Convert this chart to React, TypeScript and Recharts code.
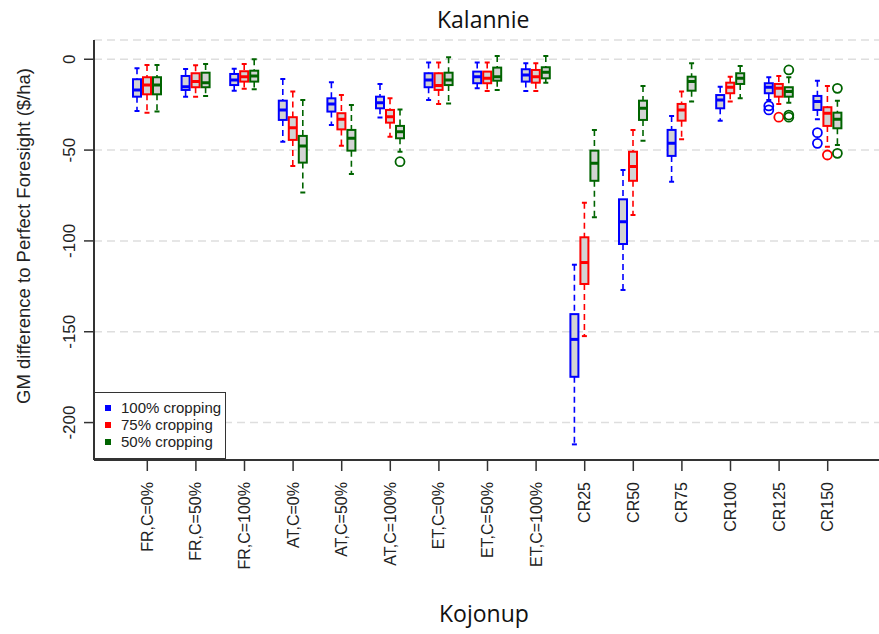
import React from 'react';
import { ComposedChart, Bar, XAxis, YAxis, CartesianGrid, Legend } from 'recharts';

// Box stats per scenario: [lower whisker, Q1, median, Q3, upper whisker]
type Stats = [number, number, number, number, number];

const categories = [
  'FR,C=0%', 'FR,C=50%', 'FR,C=100%',
  'AT,C=0%', 'AT,C=50%', 'AT,C=100%',
  'ET,C=0%', 'ET,C=50%', 'ET,C=100%',
  'CR25', 'CR50', 'CR75', 'CR100', 'CR125', 'CR150',
];

const crop100: Stats[] = [
  [-28.5, -20.6, -16.9, -11.0, -5.0],
  [-20.6, -16.9, -15.1, -9.2, -5.3],
  [-17.3, -14.2, -11.4, -8.1, -5.2],
  [-45.4, -33.4, -27.9, -22.8, -10.8],
  [-36.2, -28.8, -24.6, -21.5, -12.7],
  [-32.0, -27.0, -23.9, -20.6, -13.6],
  [-22.4, -15.4, -11.4, -7.7, -1.8],
  [-16.0, -13.2, -9.6, -6.8, -1.8],
  [-17.5, -12.3, -8.6, -5.5, -2.2],
  [-212.0, -174.8, -154.2, -140.3, -113.1],
  [-127.0, -101.7, -89.4, -77.1, -61.0],
  [-67.4, -53.2, -46.3, -38.9, -31.2],
  [-33.8, -27.0, -22.4, -19.7, -15.1],
  [-22.4, -18.7, -15.4, -13.2, -9.9],
  [-33.0, -27.9, -23.3, -20.2, -11.8],
];

const crop75: Stats[] = [
  [-29.4, -19.3, -14.2, -9.9, -3.1],
  [-20.6, -15.4, -12.3, -7.7, -3.3],
  [-16.2, -12.3, -9.6, -6.6, -2.6],
  [-58.8, -44.4, -37.7, -31.9, -17.8],
  [-47.6, -38.6, -33.0, -29.7, -19.7],
  [-42.6, -34.9, -31.6, -27.9, -21.5],
  [-24.6, -16.9, -14.5, -7.7, -1.8],
  [-17.5, -13.2, -10.5, -6.8, -1.8],
  [-17.5, -12.9, -9.6, -5.9, -2.2],
  [-152.4, -123.7, -111.9, -98.0, -79.0],
  [-85.7, -66.9, -59.1, -50.9, -38.9],
  [-44.1, -33.8, -27.9, -24.6, -17.8],
  [-23.3, -18.7, -15.4, -12.9, -9.6],
  [-24.6, -20.6, -16.0, -13.6, -9.2],
  [-48.1, -36.7, -29.7, -26.4, -14.7],
];

const crop50: Stats[] = [
  [-28.8, -19.3, -14.2, -9.9, -3.1],
  [-20.2, -15.4, -12.9, -7.4, -2.6],
  [-16.5, -12.3, -9.2, -6.3, 0.0],
  [-73.4, -56.9, -47.7, -42.2, -22.4],
  [-63.2, -50.3, -43.5, -38.9, -25.2],
  [-50.9, -43.5, -39.9, -36.7, -27.6],
  [-24.3, -14.2, -11.4, -7.4, 1.1],
  [-16.9, -11.8, -9.6, -4.6, 1.8],
  [-12.9, -10.5, -7.2, -4.4, 1.8],
  [-87.0, -66.9, -57.3, -50.3, -38.9],
  [-44.8, -33.4, -27.0, -22.8, -14.7],
  [-23.3, -17.3, -12.3, -9.6, -2.2],
  [-21.5, -13.6, -10.5, -7.7, -3.7],
  [-23.9, -20.6, -17.8, -15.4, -9.9],
  [-47.2, -38.0, -33.0, -29.4, -22.8],
];

// outlying points per category
const out100: number[][] = [[], [], [], [], [], [], [], [], [], [], [], [], [], [-25.7, -27.9], [-40.4, -46.3]];
const out75: number[][] = [[], [], [], [], [], [], [], [], [], [], [], [], [], [-31.9], [-52.7]];
const out50: number[][] = [[], [], [], [], [], [-56.4], [], [], [], [], [], [], [], [-5.9, -30.7, -31.9], [-16.0, -51.8]];

const yTicks = [0, -50, -100, -150, -200];

const series = [
  { key: 'c100', outKey: 'o100', label: '100% cropping', color: '#0000ff' },
  { key: 'c75', outKey: 'o75', label: '75% cropping', color: '#ff0000' },
  { key: 'c50', outKey: 'o50', label: '50% cropping', color: '#006400' },
];

const rows = categories.map((name, i) => ({
  name,
  c100: crop100[i], c75: crop75[i], c50: crop50[i],
  o100: out100[i], o75: out75[i], o50: out50[i],
}));

const FONT = '"Liberation Sans", Arial, sans-serif';

const boxShape = (key: string, outKey: string, color: string) => (props: any) => {
  const { x, y, width, height, payload } = props;
  const [lo, q1, med, q3, hi] = payload[key] as Stats;
  const outs = payload[outKey] as number[];
  const top = Math.min(y, y + height);
  const span = Math.abs(height);
  // the bar spans the whisker range, so map the other stats along it
  const py = (v: number) => top + ((hi - v) / (hi - lo)) * span;
  const cx = x + width / 2;
  return (
    <g>
      <line x1={cx} x2={cx} y1={py(hi)} y2={py(q3)} stroke={color} strokeWidth={1.6} strokeDasharray="6 4" />
      <line x1={cx} x2={cx} y1={py(q1)} y2={py(lo)} stroke={color} strokeWidth={1.6} strokeDasharray="6 4" />
      <line x1={cx - 2.5} x2={cx + 2.5} y1={py(hi)} y2={py(hi)} stroke={color} strokeWidth={2} />
      <line x1={cx - 2.5} x2={cx + 2.5} y1={py(lo)} y2={py(lo)} stroke={color} strokeWidth={2} />
      <rect x={x} y={py(q3)} width={width} height={py(q1) - py(q3)} fill="#d3d3d3" stroke={color} strokeWidth={2} />
      <line x1={x} x2={x + width} y1={py(med)} y2={py(med)} stroke={color} strokeWidth={3} />
      {outs.map((v, j) => (
        <circle key={j} cx={cx} cy={py(v)} r={4.5} fill="none" stroke={color} strokeWidth={1.8} />
      ))}
    </g>
  );
};

const XTick = (props: any) => {
  const { x, y, payload } = props;
  return (
    <text x={x} y={y} transform={`rotate(-90, ${x}, ${y})`} textAnchor="end" dominantBaseline="central"
      fontSize={16} fontFamily={FONT} fill="#222">
      {payload.value}
    </text>
  );
};

const YTick = (props: any) => {
  const { x, y, payload } = props;
  return (
    <text x={x} y={y} transform={`rotate(-90, ${x}, ${y})`} textAnchor="middle" dominantBaseline="central"
      fontSize={17} fontFamily={FONT} fill="#222">
      {payload.value}
    </text>
  );
};

const LegendBox = () => (
  <div style={{
    width: 132, height: 67, border: '1.5px solid #333', background: '#fff', boxSizing: 'border-box',
    fontFamily: FONT, fontSize: 15, color: '#222', paddingTop: 6,
  }}>
    {series.map((s) => (
      <div key={s.key} style={{ display: 'flex', alignItems: 'center', height: 17 }}>
        <span style={{ display: 'inline-block', width: 6, height: 6, background: s.color, marginLeft: 10, marginRight: 10 }} />
        <span>{s.label}</span>
      </div>
    ))}
  </div>
);

export default function App() {
  return (
    <div style={{ position: 'fixed', left: 0, top: 0, width: 879, height: 634, overflow: 'hidden', background: '#fff' }}>
      <ComposedChart width={900} height={634} data={rows} barGap={2}
        margin={{ top: 40, right: 19, bottom: 0, left: 0 }}>
        <CartesianGrid vertical={false} stroke="#dedede" strokeWidth={1.5} strokeDasharray="8 5" />
        <XAxis dataKey="name" type="category" interval={0} height={174} padding={{ left: 29, right: 29 }}
          axisLine={{ stroke: '#333', strokeWidth: 2 }} tickLine={{ stroke: '#333', strokeWidth: 1.5 }}
          tickSize={11} tickMargin={11} tick={<XTick />} />
        <XAxis xAxisId="top" dataKey="name" orientation="top" height={0} tick={false} tickLine={false}
          axisLine={{ stroke: '#333', strokeWidth: 2 }} />
        <YAxis type="number" domain={[-220.6, 10.6]} ticks={yTicks} allowDataOverflow width={94}
          axisLine={{ stroke: '#333', strokeWidth: 2 }} tickLine={{ stroke: '#333', strokeWidth: 1.5 }}
          tickSize={10} tickMargin={14} tick={<YTick />}
          label={{
            content: () => (
              <text x={23} y={236} transform="rotate(-90, 23, 236)" textAnchor="middle" dominantBaseline="central"
                fontSize={18.5} fontFamily={FONT} fill="#222">
                GM difference to Perfect Foresight ($/ha)
              </text>
            ),
          }} />
        {series.map((s) => (
          <Bar key={s.key} name={s.label} dataKey={(d: any) => [d[s.key][0], d[s.key][4]]} barSize={8}
            fill={s.color} isAnimationActive={false} shape={boxShape(s.key, s.outKey, s.color)} />
        ))}
        <Legend layout="vertical" align="center" verticalAlign="middle" content={<LegendBox />}
          wrapperStyle={{ left: 94, top: 392, width: 132, height: 67 }} />
      </ComposedChart>
      <svg width={879} height={634} style={{ position: 'absolute', left: 0, top: 0, pointerEvents: 'none' }}>
        <text x={437} y={28} fontSize={23} fontFamily='"Open Sans", sans-serif' fill="#111">Kalannie</text>
        <text x={439} y={622} fontSize={23} fontFamily='"Open Sans", sans-serif' fill="#111">Kojonup</text>
      </svg>
    </div>
  );
}
